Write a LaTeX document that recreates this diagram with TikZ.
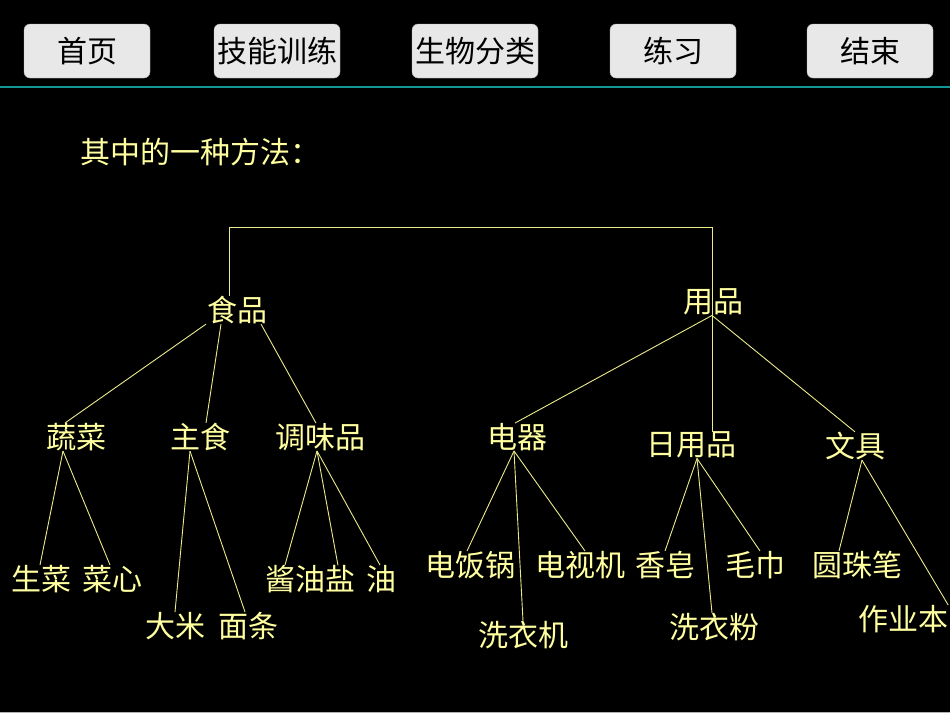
\documentclass[tikz,border=0pt]{standalone}
\usepackage{fontspec}
\newfontfamily\cjk{Noto Sans CJK SC}
\definecolor{pale}{RGB}{255,255,160}
\definecolor{wire}{RGB}{235,235,140}
\definecolor{bar}{RGB}{20,150,150}

\begin{document}
\begin{tikzpicture}[x=1pt,y=-1pt,
  item/.style={text=pale,inner sep=0pt,font=\cjk\fontsize{30}{35}\selectfont},
  btn/.style={draw=gray!60,fill=gray!18,rounded corners=6pt,minimum width=126pt,
    minimum height=54pt,inner sep=0pt,font=\cjk\fontsize{30}{35}\selectfont},
  link/.style={draw=wire,line width=0.9pt}]
  \fill[black] (0,0) rectangle (950,713);
  \useasboundingbox (0,0) rectangle (950,713);
  % menu bar
  \node[btn] (home)     at (87,51)  {首页};
  \node[btn] (skill)    at (277,51) {技能训练};
  \node[btn] (bio)      at (475,51) {生物分类};
  \node[btn] (practice) at (673,51) {练习};
  \node[btn] (finish)   at (870,51) {结束};
  \draw[bar,line width=2.5pt] (0,87) -- (950,87);
  \draw[gray!60,line width=1pt] (0,712.5) -- (950,712.5);
  \node[item,anchor=west] (head) at (80,152) {其中的一种方法：};
  % first level
  \node[item] (food) at (237,310) {食品};
  \node[item] (use)  at (713,302) {用品};
  % second level
  \node[item] (veg)    at (76,437)  {蔬菜};
  \node[item] (staple) at (200,437) {主食};
  \node[item] (spice)  at (320,437) {调味品};
  \node[item] (elec)   at (517,437) {电器};
  \node[item] (daily)  at (691,445) {日用品};
  \node[item] (stat)   at (855,446) {文具};
  \draw[link] ([xshift=-8pt]food.north) -- ++(0,-68) -| ([xshift=21pt]daily.north);
  \draw[link] ([xshift=-31pt]food.south) -- ([xshift=-11pt]veg.north);
  \draw[link] ([xshift=-16pt]food.south) -- ([xshift=6pt]staple.north);
  \draw[link] ([xshift=24pt]food.south) -- ([xshift=-4pt]spice.north);
  \draw[link] ([xshift=-1pt]use.south) -- ([xshift=-2pt]elec.north);
  \draw[link] ([xshift=-1pt]use.south) -- (stat.north);
  % leaves
  \node[item] (lettuce) at (41,579)  {生菜};
  \node[item] (heart)   at (112,579) {菜心};
  \node[item] (rice)    at (175,626) {大米};
  \node[item] (noodle)  at (248,626) {面条};
  \node[item] (soy)     at (295,579) {酱油};
  \node[item] (salt)    at (340,579) {盐};
  \node[item] (oil)     at (381,579) {油};
  \node[item] (cooker)  at (470,565) {电饭锅};
  \node[item] (tv)      at (580,565) {电视机};
  \node[item] (washer)  at (523,635) {洗衣机};
  \node[item] (soap)    at (665,565) {香皂};
  \node[item] (towel)   at (755,565) {毛巾};
  \node[item] (powder)  at (714,627) {洗衣粉};
  \node[item] (pen)     at (857,565) {圆珠笔};
  \node[item] (book)    at (903,619) {作业本};
  \draw[link] ([xshift=-13pt]veg.south) -- ([xshift=-1pt]lettuce.north);
  \draw[link] ([xshift=-13pt]veg.south) -- ([xshift=-2pt]heart.north);
  \draw[link] ([xshift=-10pt]staple.south) -- (rice.north);
  \draw[link] ([xshift=-10pt]staple.south) -- ([xshift=-3pt]noodle.north);
  \draw[link] ([xshift=-3pt]spice.south) -- ([xshift=-10pt]soy.north);
  \draw[link] ([xshift=-3pt]spice.south) -- ([xshift=-2pt]salt.north);
  \draw[link] ([xshift=-3pt]spice.south) -- ([xshift=-1pt]oil.north);
  \draw[link] ([xshift=-3pt]elec.south) -- ([xshift=-3pt]cooker.north);
  \draw[link] ([xshift=-3pt]elec.south) -- (washer.north);
  \draw[link] ([xshift=-3pt]elec.south) -- ([xshift=5pt]tv.north);
  \draw[link] ([xshift=6pt]daily.south) -- (soap.north);
  \draw[link] ([xshift=6pt]daily.south) -- ([xshift=-2pt]powder.north);
  \draw[link] ([xshift=6pt]daily.south) -- ([xshift=5pt]towel.north);
  \draw[link] ([xshift=7pt]stat.south) -- ([xshift=-18pt]pen.north);
  \draw[link] ([xshift=7pt]stat.south) -- (book.north east);
\end{tikzpicture}
\end{document}
